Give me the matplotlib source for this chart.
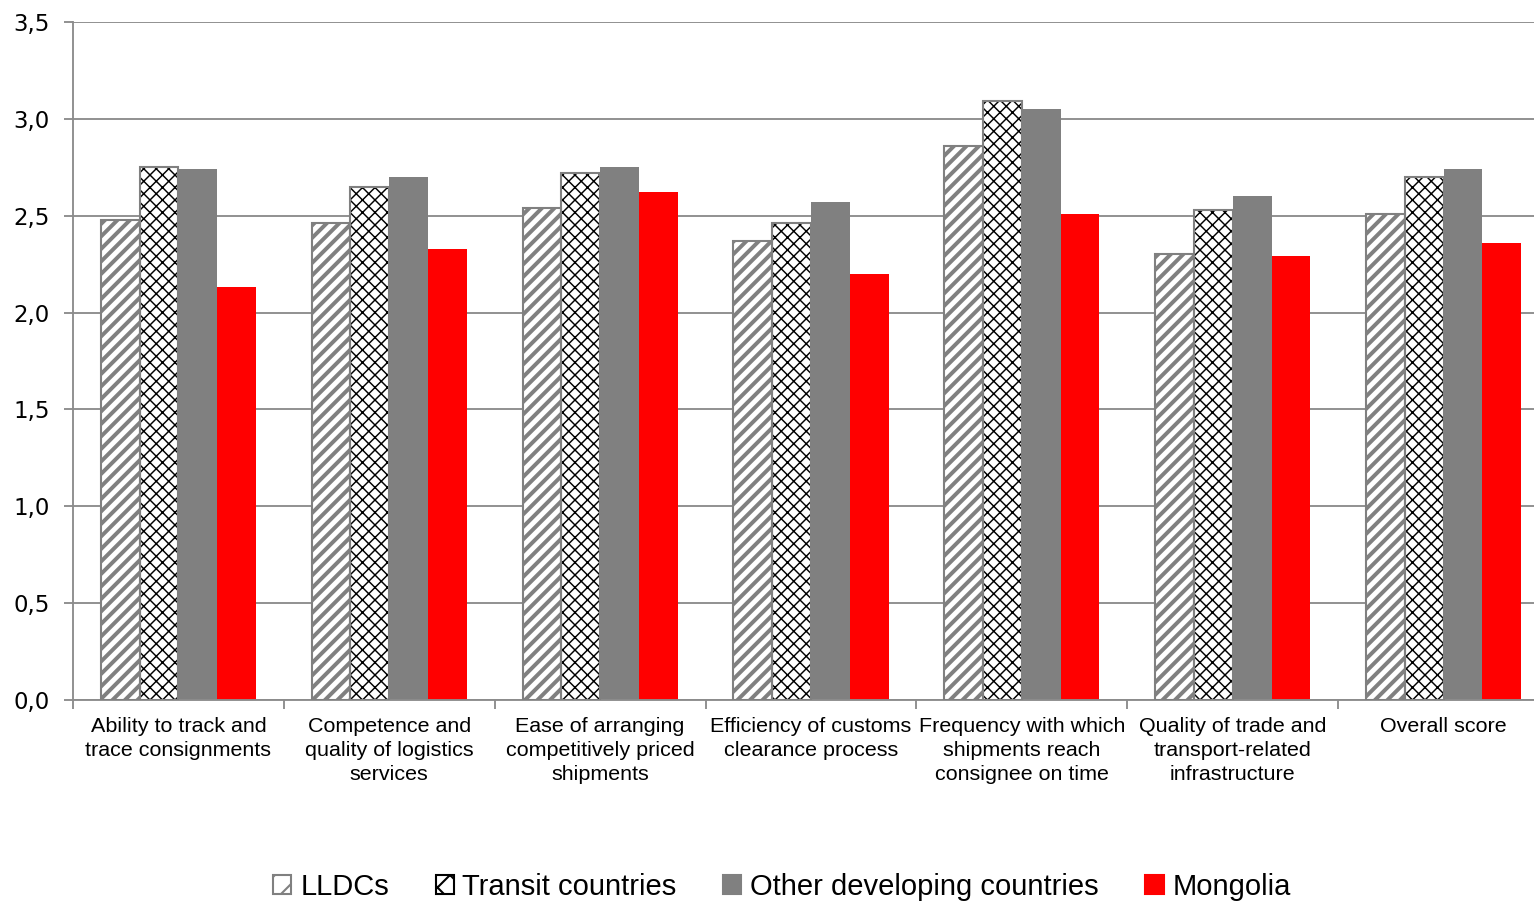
import matplotlib
matplotlib.use("Agg")
import matplotlib.pyplot as plt
from matplotlib.patches import Patch
import numpy as np

categories = [
    "Ability to track and\ntrace consignments",
    "Competence and\nquality of logistics\nservices",
    "Ease of arranging\ncompetitively priced\nshipments",
    "Efficiency of customs\nclearance process",
    "Frequency with which\nshipments reach\nconsignee on time",
    "Quality of trade and\ntransport-related\ninfrastructure",
    "Overall score",
]
series_names = ["LLDCs", "Transit countries", "Other developing countries", "Mongolia"]
lldcs = [2.48, 2.46, 2.54, 2.37, 2.86, 2.30, 2.51]
transit = [2.75, 2.65, 2.72, 2.46, 3.09, 2.53, 2.70]
other_dev = [2.74, 2.70, 2.75, 2.57, 3.05, 2.60, 2.74]
mongolia = [2.13, 2.33, 2.62, 2.20, 2.51, 2.29, 2.36]
yticks = [0.0, 0.5, 1.0, 1.5, 2.0, 2.5, 3.0, 3.5]

GRAY = "#808080"
LINE = "#8c8c8c"
DPI = 150

fig = plt.figure(figsize=(1534 / DPI, 904 / DPI), dpi=DPI)
# plot area runs a little past the right edge of the figure
ax = fig.add_axes([73 / 1534, 1 - 700 / 904, 1476 / 1534, (700 - 22) / 904])

n = len(categories)
x = np.arange(n) + 0.5
w = 0.184

# hatched layers first (hatch takes the edge colour), then a grey outline on top
def hatched(xs, vals, hatch, hcolor, hlw):
    with plt.rc_context({"hatch.linewidth": hlw}):
        bars = ax.bar(xs, vals, w, color="white", edgecolor=hcolor, hatch=hatch,
                      linewidth=0, zorder=2)
    for b in bars:
        if hasattr(b, "set_hatch_linewidth"):
            b.set_hatch_linewidth(hlw)
    ax.bar(xs, vals, w, fill=False, edgecolor=GRAY, linewidth=1.0, zorder=3)

hatched(x - 1.5 * w, lldcs, "////", GRAY, 1.9)
hatched(x - 0.5 * w, transit, "xxxx", "black", 0.7)
ax.bar(x + 0.5 * w, other_dev, w, color=GRAY, linewidth=0, zorder=2)
ax.bar(x + 1.5 * w, mongolia, w, color="#ff0000", linewidth=0, zorder=2)

ax.set_xlim(0, n)
ax.set_ylim(0, 3.5)
ax.set_yticks(yticks)
ax.set_yticklabels([f"{t:.1f}".replace(".", ",") for t in yticks],
                   fontfamily="DejaVu Sans", fontsize=11)
ax.yaxis.grid(True, color=LINE, linewidth=0.9)
ax.set_axisbelow(True)

# group separators as major ticks, category names on minor ticks
ax.set_xticks(np.arange(n + 1))
ax.set_xticklabels([])
ax.set_xticks(x, minor=True)
ax.set_xticklabels(categories, minor=True, fontfamily="Liberation Sans",
                   fontsize=10.3, linespacing=1.34)
ax.tick_params(axis="x", which="minor", length=0, pad=8)
ax.tick_params(axis="x", which="major", length=4.3, color=LINE, width=0.9)
ax.tick_params(axis="y", length=4.3, color=LINE, width=0.9, pad=7)

for s in ["top", "right"]:
    ax.spines[s].set_visible(False)
for s in ["left", "bottom"]:
    ax.spines[s].set_color(LINE)
    ax.spines[s].set_linewidth(0.9)

handles = [
    Patch(facecolor="white", edgecolor=GRAY, hatch="//", linewidth=1.0),
    Patch(facecolor="white", edgecolor="black", hatch="xx", linewidth=1.0),
    Patch(facecolor=GRAY, edgecolor=GRAY),
    Patch(facecolor="#ff0000", edgecolor="#ff0000"),
]
fig.legend(handles, series_names, loc="center", bbox_to_anchor=(782 / 1534, 1 - 887 / 904),
           ncol=4, frameon=False, prop={"family": "Liberation Sans", "size": 14},
           handlelength=0.62, handleheight=0.62, handletextpad=0.3, columnspacing=1.6)

fig.savefig("out.png", dpi=DPI)
